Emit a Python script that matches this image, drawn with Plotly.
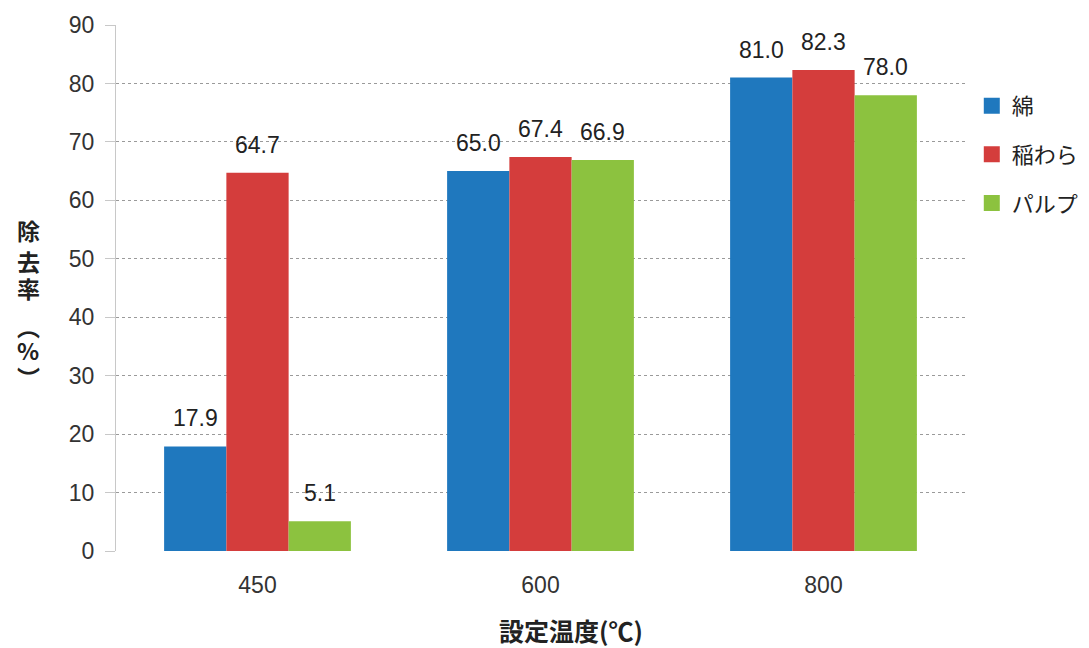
import plotly.graph_objects as go

# Set temperature (°C) and removal rate (%) for each material
temperatures = ["450", "600", "800"]
materials = ["綿", "稲わら", "パルプ"]
cotton = [17.9, 65.0, 81.0]
rice_straw = [64.7, 67.4, 82.3]
pulp = [5.1, 66.9, 78.0]
series = [cotton, rice_straw, pulp]
colors = ["#1f78be", "#d43d3c", "#8cc23f"]
y_ticks = [0, 10, 20, 30, 40, 50, 60, 70, 80, 90]

font_latin = "Liberation Sans, Arial, sans-serif"
font_cjk = "Noto Sans CJK JP, sans-serif"

W, H = 1089, 648
M_L, M_R, M_T, M_B = 116, 124, 25, 97
BARGAP = 0.34

fig = go.Figure()
for name, vals, col in zip(materials, series, colors):
    fig.add_trace(go.Bar(
        x=temperatures, y=vals, name=name, showlegend=False,
        marker=dict(color=col, line=dict(width=0)),
    ))
for name, col in zip(materials, colors):
    # legend entry with a larger square swatch (no visible point)
    fig.add_trace(go.Scatter(
        x=[temperatures[0]], y=[None], name=name, mode="markers",
        legendgroup=name,
        marker=dict(symbol="square", size=16, color=col),
    ))

# Value labels above each bar, shifted to the bar's slot within the group.
# On a category axis, annotation x is the category's serial number.
plot_w = W - M_L - M_R
plot_h = H - M_T - M_B
bar_px = plot_w / len(temperatures) * (1 - BARGAP) / len(series)
for i, vals in enumerate(series):
    for j, v in enumerate(vals):
        fig.add_annotation(
            x=j, y=v, text=f"{v:.1f}", showarrow=False,
            xanchor="center", yanchor="bottom",
            xshift=(i - 1) * bar_px, yshift=13,
            font=dict(size=23, family=font_latin, color="#222222"),
        )

fig.update_layout(
    width=W, height=H,
    margin=dict(l=M_L, r=M_R, t=M_T, b=M_B, autoexpand=False),
    paper_bgcolor="white", plot_bgcolor="white",
    barmode="group", bargap=BARGAP, bargroupgap=0,
    font=dict(family=font_latin, color="#333333"),
    showlegend=True,
    legend=dict(
        x=1.008, y=0.886, xanchor="left", yanchor="top",
        font=dict(size=22, family=font_cjk, color="#222222"),
        itemwidth=30, tracegroupgap=17,
        bgcolor="rgba(0,0,0,0)",
    ),
)

fig.update_yaxes(
    range=[0, 90], tickvals=y_ticks,
    showgrid=True, gridcolor="#9a9a9a", griddash="dot", gridwidth=1,
    zeroline=False, showline=True, linecolor="#c8c8c8", linewidth=1,
    tickfont=dict(size=23, family=font_latin, color="#333333"),
    ticks="outside", ticklen=10, tickcolor="#c8c8c8", ticklabelstandoff=6,
)
fig.update_xaxes(
    type="category", categoryorder="array", categoryarray=temperatures,
    range=[-0.5, len(temperatures) - 0.5],
    showgrid=False, showline=False, zeroline=False,
    tickfont=dict(size=23, family=font_latin, color="#333333"),
    ticks="", ticklabelstandoff=18,
)

# Vertical stacked y-axis title, one glyph per line,
# using the vertical-writing forms of the parentheses.
y_title_chars = ["除", "去", "率", "︵", "%", "︶"]
y_title_pos = [230, 261, 288, 326, 350, 377]
for ch, py in zip(y_title_chars, y_title_pos):
    fig.add_annotation(
        text=f"<b>{ch}</b>", xref="paper", yref="paper",
        x=(28 - M_L) / plot_w, y=(H - M_B - py) / plot_h,
        xanchor="center", yanchor="middle", showarrow=False,
        font=dict(size=23, family=font_cjk, color="#222222"),
    )
# X-axis title
fig.add_annotation(
    text="<b>設定温度(℃)</b>", xref="paper", yref="paper",
    x=(571 - M_L) / plot_w, y=(H - M_B - 630) / plot_h,
    xanchor="center", yanchor="middle", showarrow=False,
    font=dict(size=25, family=font_cjk, color="#222222"),
)

fig.write_html("out.html")
